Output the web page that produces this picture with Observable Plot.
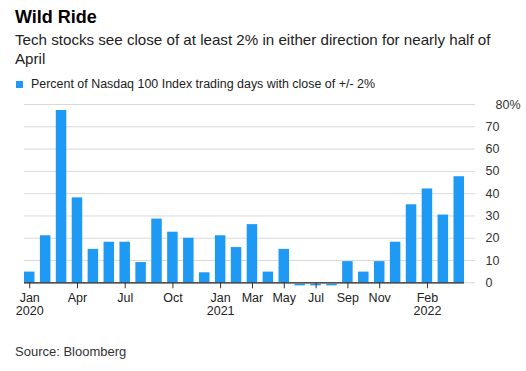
<!DOCTYPE html>
<html>
<head>
<meta charset="utf-8">
<script src="https://cdn.jsdelivr.net/npm/d3@7"></script>
<script src="https://cdn.jsdelivr.net/npm/@observablehq/plot@0.6"></script>
<style>
  html, body { margin: 0; padding: 0; background: #fff; }
  body { width: 526px; height: 371px; position: relative; overflow: hidden; font-family: "Liberation Sans", Arial, sans-serif; color: #111; }
  .abs { position: absolute; left: 15px; white-space: nowrap; }
  #title { top: 5.5px; font-size: 18px; line-height: 22px; font-weight: bold; color: #000; }
  #subtitle { top: 31px; font-size: 15.15px; line-height: 18.6px; color: #222; }
  #legend { top: 77px; font-size: 12.45px; line-height: 14px; color: #222; left: 16px; }
  #legend .sw { display: inline-block; width: 7px; height: 7px; background: #1e9af4; margin-right: 8px; vertical-align: 0px; }
  #chart { position: absolute; left: 0; top: 96px; }
  #source { top: 344px; font-size: 13px; line-height: 16px; color: #333; }
</style>
</head>
<body>
<div id="title" class="abs">Wild Ride</div>
<div id="subtitle" class="abs">Tech stocks see close of at least 2% in either direction for nearly half of<br>April</div>
<div id="legend" class="abs"><span class="sw"></span>Percent of Nasdaq 100 Index trading days with close of +/- 2%</div>
<div id="chart"></div>
<div id="source" class="abs">Source: Bloomberg</div>
<script>
// Months Jan 2020 – Apr 2022
const months = [
  "2020-01","2020-02","2020-03","2020-04","2020-05","2020-06","2020-07","2020-08","2020-09","2020-10","2020-11","2020-12",
  "2021-01","2021-02","2021-03","2021-04","2021-05","2021-06","2021-07","2021-08","2021-09","2021-10","2021-11","2021-12",
  "2022-01","2022-02","2022-03","2022-04"
];
// Percent of trading days with close of +/- 2%
const values = [
  4.8, 21.1, 77.3, 38.1, 15.0, 18.2, 18.2, 9.1, 28.6, 22.7, 20.0, 4.5,
  21.1, 15.8, 26.1, 4.8, 15.0, 0, 0, 0, 9.5, 4.8, 9.5, 18.2,
  35.0, 42.1, 30.4, 47.6
];
const xTicks = ["2020-01","2020-04","2020-07","2020-10","2021-01","2021-03","2021-05","2021-07","2021-09","2021-11","2022-02"];
const xTickLabels = ["Jan\n2020","Apr","Jul","Oct","Jan\n2021","Mar","May","Jul","Sep","Nov","Feb\n2022"];
const yTicks = [0, 10, 20, 30, 40, 50, 60, 70];
const yTopTick = [80];
const legendLabel = "Percent of Nasdaq 100 Index trading days with close of +/- 2%";

const data = months.map((m, i) => ({month: m, value: values[i]}));
const zeros = data.filter(d => d.value === 0);
const blue = "#1e9af4";

const chart = Plot.plot({
  width: 526,
  height: 230,
  marginTop: 8,
  marginBottom: 43.7,
  marginLeft: 24,
  marginRight: 51,
  style: {fontFamily: "'Liberation Sans', Arial, sans-serif", fontSize: "12.5px", color: "#222", background: "transparent"},
  x: {type: "band", domain: months, paddingInner: 0.34, paddingOuter: 0, round: false, insetRight: 11, label: null},
  y: {domain: [0, 80], label: null},
  marks: [
    Plot.gridY(yTicks.concat(yTopTick), {stroke: "#d9d9d9", strokeOpacity: 1, strokeWidth: 1}),
    Plot.barY(data, {x: "month", y: "value", fill: blue}),
    Plot.tickY(zeros, {x: "month", y: 0, stroke: blue, strokeWidth: 1.5, dy: 1.8}),
    Plot.ruleY([0], {stroke: "#222", strokeWidth: 1.3, insetRight: 11}),
    Plot.axisX({ticks: xTicks, tickFormat: d => xTickLabels[xTicks.indexOf(d)], tickSize: 6, tickPadding: 4.4, stroke: "#333", fill: "#222", fontSize: 12.5}),
    Plot.axisY({anchor: "right", ticks: yTicks, tickSize: 0, tickPadding: 10, textAnchor: "start", fill: "#333", fontSize: 12.5}),
    Plot.axisY({anchor: "right", ticks: yTopTick, tickFormat: d => d + "%", tickSize: 0, tickPadding: 20, textAnchor: "start", fill: "#333", fontSize: 12.5})
  ]
});
document.getElementById("chart").appendChild(chart);
</script>
</body>
</html>
